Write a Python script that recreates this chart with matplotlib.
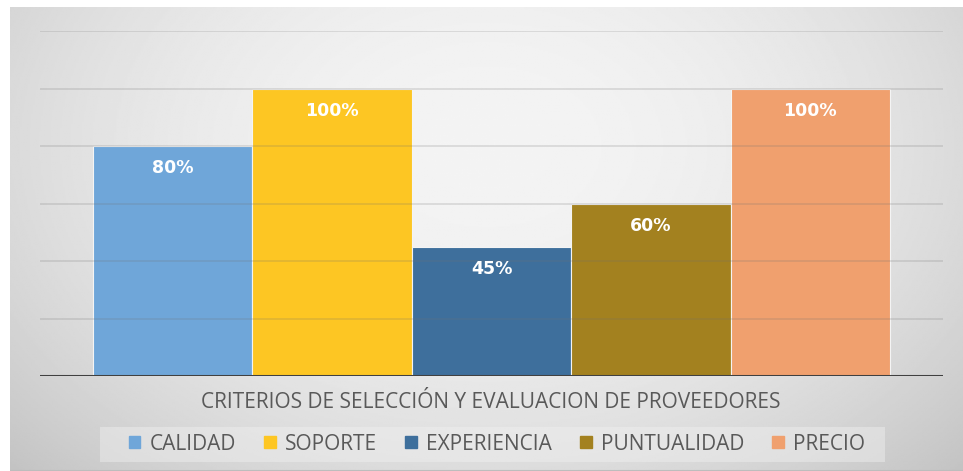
import matplotlib.pyplot as plt  # To plot the chart
import matplotlib.patches as mpatches  # For the legend squares
import numpy as np  # For the background gradient

# Data of the chart
categories = ['CALIDAD', 'SOPORTE', 'EXPERIENCIA', 'PUNTUALIDAD', 'PRECIO']
values = [0.80, 1.00, 0.45, 0.60, 1.00]
labels = ['80%', '100%', '45%', '60%', '100%']
colors = ['#6fa6d9', '#fdc623', '#3e6f9c', '#a3811f', '#f0a06e']
axis_title = 'CRITERIOS DE SELECCIÓN Y EVALUACION DE PROVEEDORES'

W, H = 963, 471
fig = plt.figure(figsize=(W / 100, H / 100), dpi=100)
fig.patch.set_facecolor('white')

# Background of the chart area (radial gray gradient)
bg = fig.add_axes([10 / W, 0, 1 - 10 / W, (H - 7) / H])
yy, xx = np.mgrid[0:1:300j, 0:1:600j]
r = np.sqrt(((xx - 0.5) / 0.55) ** 2 + ((yy - 0.3) / 0.8) ** 2)
shade = np.clip(0.955 - 0.12 * r ** 2, 0, 1)
bg.imshow(shade, cmap='gray', vmin=0, vmax=1, aspect='auto', extent=[0, 1, 1, 0])
bg.axhline(1, color='#bdbdbd', lw=1.5)
bg.set_axis_off()

# Light box behind the legend
fig.patches.append(mpatches.Rectangle((100 / W, 1 - 462 / H), 785 / W, 35 / H,
                                      transform=fig.transFigure, facecolor='#f0f0f0',
                                      alpha=0.45, edgecolor='none', zorder=1))

# Plot area
left, right, top, base = 40, 943, 31, 376
ax = fig.add_axes([left / W, (H - base) / H, (right - left) / W, (base - top) / H])
ax.patch.set_alpha(0)

x = np.arange(len(categories))
ax.bar(x, values, width=1.0, color=colors, edgecolor='#f4f4f4', linewidth=0.8, zorder=2)

# Gridlines over the bars
for g in [0.2, 0.4, 0.6, 0.8, 1.0, 1.2]:
    ax.axhline(g, color='#707070', alpha=0.2, lw=1.3, zorder=3)
ax.axhline(0, color='#404040', lw=2.2, zorder=4)

for xi, v, lab in zip(x, values, labels):
    ax.annotate(lab, (xi, v), xytext=(0, -16), textcoords='offset points',
                ha='center', va='center', color='white', fontsize=12.5,
                fontweight='bold', family='DejaVu Sans', zorder=5)

margin = 53 / 159.4
ax.set_xlim(-0.5 - margin, len(categories) - 0.5 + margin)
ax.set_ylim(0, 1.2)
ax.set_axis_off()

# Axis title under the bars
fig.text(491 / W, 1 - 403 / H, axis_title, ha='center', va='center',
         fontsize=15, color='#595959', family='Open Sans')

# Legend
handles = [mpatches.Patch(color=c, label=n) for c, n in zip(colors, categories)]
leg = fig.legend(handles=handles, loc='center', bbox_to_anchor=(497 / W, 1 - 444 / H),
                 ncol=5, frameon=False, handlelength=0.55, handleheight=0.55,
                 handletextpad=0.45, columnspacing=1.35,
                 prop={'family': 'Open Sans', 'size': 15})
for t in leg.get_texts():
    t.set_color('#595959')

fig.savefig('out.png', dpi=100)
